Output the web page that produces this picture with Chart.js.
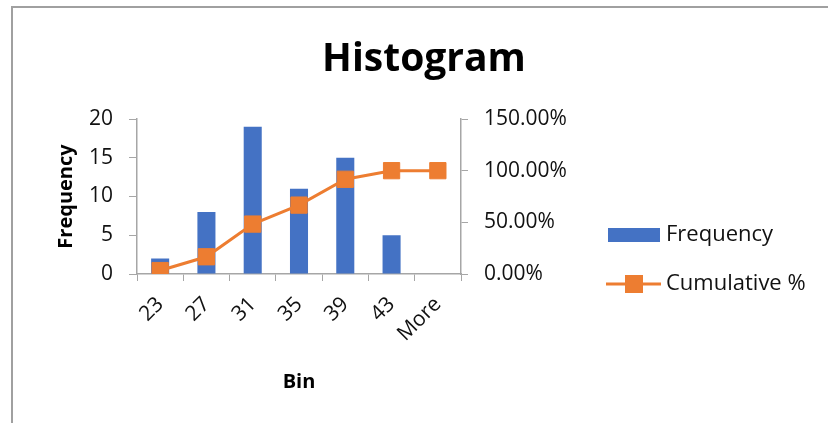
<!DOCTYPE html>
<html>
<head>
<meta charset="utf-8">
<script src="https://cdn.jsdelivr.net/npm/chart.js@4.4.0/dist/chart.umd.min.js"></script>
<style>
  html, body { margin: 0; padding: 0; background: #fff; }
  canvas { display: block; }
</style>
</head>
<body>
<canvas id="hist" width="828" height="423"></canvas>
<script>
// bins and counts
const bins = ['23', '27', '31', '35', '39', '43', 'More']
const frequency = [2, 8, 19, 11, 15, 5, 0]
const cumulative = [0.0333, 0.1667, 0.4833, 0.6667, 0.9167, 1.0, 1.0]

const BLUE = '#4472C4'
const ORANGE = '#ED7D31'
const AXIS = '#a6a6a6'
const FONT = "'Open Sans', sans-serif"

// outer frame + hand drawn legend (Excel style)
const excelBits = {
    id: 'excelBits',
    beforeDraw(chart) {
        const c = chart.ctx
        c.save()
        c.strokeStyle = '#a0a0a0'
        c.lineWidth = 2
        c.beginPath()
        c.moveTo(12, 423)
        c.lineTo(12, 7)
        c.lineTo(828, 7)
        c.stroke()
        c.restore()
    },
    afterDraw(chart) {
        const c = chart.ctx
        const ds = chart.data.datasets
        c.save()
        c.font = '22px ' + FONT
        c.fillStyle = '#111'
        c.textBaseline = 'middle'
        // Frequency
        c.fillStyle = ds[0].backgroundColor
        c.fillRect(608, 228, 52, 14)
        c.fillStyle = '#111'
        c.fillText(ds[0].label, 666, 235)
        // Cumulative %
        c.strokeStyle = ds[1].borderColor
        c.lineWidth = 3
        c.beginPath()
        c.moveTo(606, 284)
        c.lineTo(661, 284)
        c.stroke()
        c.fillStyle = ds[1].borderColor
        c.fillRect(625, 275, 18, 18)
        c.fillStyle = '#111'
        c.fillText(ds[1].label, 666, 284)
        c.restore()
    }
}

const ctx = document.getElementById('hist')
const chart = new Chart(ctx, {
    type: 'bar',
    data: {
        labels: bins,
        datasets: [{
            label: 'Frequency',
            data: frequency,
            backgroundColor: BLUE,
            categoryPercentage: 1,
            barPercentage: 0.39,
            yAxisID: 'y',
            order: 2
        }, {
            type: 'line',
            label: 'Cumulative %',
            data: cumulative,
            borderColor: ORANGE,
            backgroundColor: ORANGE,
            borderWidth: 3,
            pointStyle: 'rect',
            pointRadius: 11.5,
            pointBorderWidth: 1,
            pointBorderColor: ORANGE,
            pointBackgroundColor: ORANGE,
            tension: 0,
            yAxisID: 'y1',
            order: 1
        }]
    },
    options: {
        responsive: false,
        animation: false,
        devicePixelRatio: 1,
        layout: { padding: { left: 20, right: 0, top: 0, bottom: 0 } },
        plugins: {
            legend: { display: false },
            tooltip: { enabled: false },
            title: {
                display: true,
                text: 'Histogram',
                color: '#000',
                font: { family: FONT, size: 39, weight: 'bold', lineHeight: 1.2 },
                padding: { top: 36, bottom: 36.2 }
            }
        },
        scales: {
            x: {
                grid: { display: true, drawOnChartArea: false, drawTicks: true, tickLength: 7, color: AXIS, offset: true },
                border: { color: AXIS, width: 1.5 },
                ticks: {
                    color: '#111',
                    font: { family: FONT, size: 21 },
                    minRotation: 45,
                    maxRotation: 45,
                    padding: 11
                },
                title: {
                    display: true,
                    text: 'Bin',
                    color: '#000',
                    font: { family: FONT, size: 20, weight: 'bold', lineHeight: 1.2 },
                    padding: { top: 0, bottom: 29 }
                },
                afterFit(s) { s.height = 149 }
            },
            y: {
                position: 'left',
                min: 0,
                max: 20,
                ticks: {
                    stepSize: 5,
                    color: '#111',
                    font: { family: FONT, size: 21 },
                    padding: 16
                },
                grid: { display: true, drawOnChartArea: false, tickLength: 8, color: AXIS },
                border: { color: AXIS, width: 1.5 },
                title: {
                    display: true,
                    text: 'Frequency',
                    color: '#000',
                    font: { family: FONT, size: 20, weight: 'bold', lineHeight: 1.2 },
                    padding: { top: 34, bottom: 0 }
                },
                afterFit(s) { s.width = 117 }
            },
            y1: {
                position: 'right',
                min: 0,
                max: 1.5,
                ticks: {
                    stepSize: 0.5,
                    color: '#111',
                    font: { family: FONT, size: 21 },
                    padding: 16,
                    callback: (v) => (v * 100).toFixed(2) + '%'
                },
                grid: { display: true, drawOnChartArea: false, tickLength: 7, color: AXIS },
                border: { color: AXIS, width: 1.5 },
                afterFit(s) { s.width = 367 }
            }
        }
    },
    plugins: [excelBits]
})
</script>
</body>
</html>
